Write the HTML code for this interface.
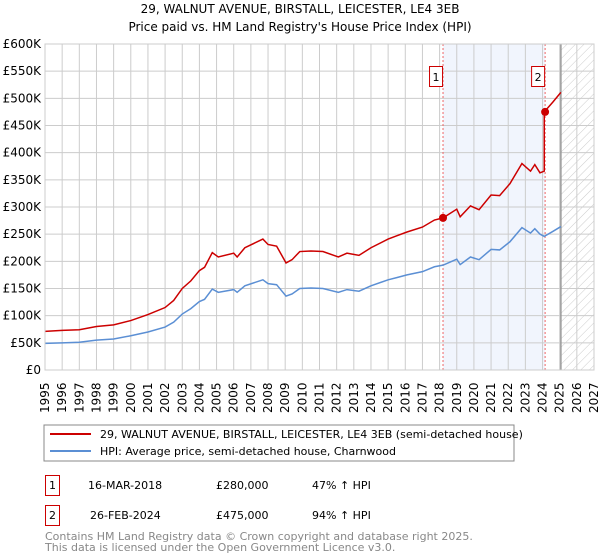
<!DOCTYPE html>
<html><head><meta charset="utf-8"><style>
body{margin:0;background:#fff;font-family:"Liberation Sans","DejaVu Sans",sans-serif;}
svg{display:block}
</style></head><body>
<svg width="600" height="560" xmlns="http://www.w3.org/2000/svg" font-family="DejaVu Sans, Liberation Sans, sans-serif">
<defs><pattern id="hatch" width="6" height="6" patternUnits="userSpaceOnUse" patternTransform="rotate(45)"><line x1="0" y1="0" x2="0" y2="6" stroke="#ccc" stroke-width="1"/></pattern></defs>
<text x="300" y="13" text-anchor="middle" font-size="12">29, WALNUT AVENUE, BIRSTALL, LEICESTER, LE4 3EB</text>
<text x="300" y="31" text-anchor="middle" font-size="12">Price paid vs. HM Land Registry's House Price Index (HPI)</text>
<g id="plot"></g>
<g>
<rect x="44" y="425" width="470" height="36" fill="#fff" stroke="#888"/>
<line x1="50" y1="434" x2="91" y2="434" stroke="#cc0000" stroke-width="2"/>
<text x="100" y="438" font-size="11">29, WALNUT AVENUE, BIRSTALL, LEICESTER, LE4 3EB (semi-detached house)</text>
<line x1="50" y1="451" x2="91" y2="451" stroke="#5b8fd4" stroke-width="2"/>
<text x="100" y="455" font-size="11">HPI: Average price, semi-detached house, Charnwood</text>
</g>
<g font-size="11">
<rect x="45.5" y="475.5" width="14" height="20" fill="#fff" stroke="#cc0000"/>
<text x="52.5" y="489" text-anchor="middle">1</text>
<text x="88" y="489">16-MAR-2018</text>
<text x="216" y="489">£280,000</text>
<text x="312" y="489">47% ↑ HPI</text>
<rect x="45.5" y="505.5" width="14" height="20" fill="#fff" stroke="#cc0000"/>
<text x="52.5" y="519" text-anchor="middle">2</text>
<text x="90" y="519">26-FEB-2024</text>
<text x="216" y="519">£475,000</text>
<text x="312" y="519">94% ↑ HPI</text>
</g>
<text x="45" y="540" font-size="11" fill="#888">Contains HM Land Registry data © Crown copyright and database right 2025.</text>
<text x="45" y="551" font-size="11" fill="#888">This data is licensed under the Open Government Licence v3.0.</text>
</svg>
<script>
const hpiYears=[1995,1996,1997,1998,1999,2000,2001,2002,2002.5,2003,2003.5,2004,2004.3,2004.75,2005.1,2006.0,2006.2,2006.65,2007.7,2008.0,2008.5,2009.05,2009.4,2009.85,2010.5,2011.2,2012.1,2012.6,2013.3,2014.0,2015.0,2015.5,2016.1,2017.0,2017.7,2018.2,2019.0,2019.2,2019.8,2020.3,2021.0,2021.5,2022.1,2022.8,2023.3,2023.55,2023.85,2024.1,2024.6,2025.07];
const hpiValues=[49,50,51,55,57,63,70,79,88,103,113,126,130,149,143,148,143,155,166,159,157,136,140,150,151,150,143,148,145,155,166,170,175,181,190,193,204,194,208,203,222,221,236,262,252,260,250,246,255,264];
const priceYears=[1995,1996,1997,1998,1999,2000,2001,2002,2002.5,2003,2003.5,2004,2004.3,2004.75,2005.1,2006.0,2006.2,2006.65,2007.7,2008.0,2008.5,2009.05,2009.4,2009.85,2010.5,2011.2,2012.1,2012.6,2013.3,2014.0,2015.0,2015.5,2016.1,2017.0,2017.7,2018.2,2019.0,2019.2,2019.8,2020.3,2021.0,2021.5,2022.1,2022.8,2023.3,2023.55,2023.85,2024.1,2024.1,2024.6,2025.07];
const priceValues=[71,73,74,80,83,91,102,115,128,150,164,183,189,216,208,215,208,225,241,231,228,197,203,218,219,218,208,215,211,225,241,247,254,263,276,280,296,282,302,295,322,321,343,380,366,378,363,366,475,493,511];
const saleYears=[2018.2,2024.15];
const saleValues=[280,475];
const saleLabels=["1","2"];
const yTicks=[0,50,100,150,200,250,300,350,400,450,500,550,600];
const yTickLabels=["£0","£50K","£100K","£150K","£200K","£250K","£300K","£350K","£400K","£450K","£500K","£550K","£600K"];
const xTicks=[1995,1996,1997,1998,1999,2000,2001,2002,2003,2004,2005,2006,2007,2008,2009,2010,2011,2012,2013,2014,2015,2016,2017,2018,2019,2020,2021,2022,2023,2024,2025,2026,2027];
const dataEnd=2025.07;

const L=45,R=594,T=44,B=370,X0=1995,X1=2027,Y1=600;
const xs=v=>L+(v-X0)/(X1-X0)*(R-L);
const ys=v=>B-v/Y1*(B-T);
const NS="http://www.w3.org/2000/svg";
const g=document.getElementById('plot');
function mk(t,a,p){const e=document.createElementNS(NS,t);for(const k in a)e.setAttribute(k,a[k]);(p||g).appendChild(e);return e;}

const shade=mk('rect',{x:xs(saleYears[0]),y:T,width:xs(saleYears[1])-xs(saleYears[0]),height:B-T,fill:'#eef3fc',opacity:0.8});


const hatch=mk('rect',{x:xs(dataEnd),y:T,width:R-xs(dataEnd),height:B-T,fill:'url(#hatch)'});



yTicks.forEach((v,i)=>{
 const ln=mk('line',{x1:L,x2:R,y1:ys(v),y2:ys(v),stroke:'#ccc'});
 
 
 const t=mk('text',{x:L-4,y:ys(v)+4,'text-anchor':'end','font-size':12});
 
 
 t.textContent=yTickLabels[i];
});
xTicks.forEach(v=>{
 const ln=mk('line',{x1:xs(v),x2:xs(v),y1:T,y2:B,stroke:'#ccc'});
 
 
 const t=mk('text',{x:0,y:0,'font-size':12,transform:`translate(${xs(v)+4},${413}) rotate(-90)`});
 
 
 t.textContent=v;
});
const endLine=mk('line',{x1:xs(dataEnd),x2:xs(dataEnd),y1:T,y2:B,stroke:'#999','stroke-width':1.5});



saleYears.forEach((yr,i)=>{
 const d=mk('line',{x1:xs(yr),x2:xs(yr),y1:T,y2:B,stroke:'#e66','stroke-dasharray':'2,2'});
 
 
});

const hp=mk('polyline',{points:hpiYears.map((y,i)=>xs(y)+','+ys(hpiValues[i])).join(' '),fill:'none',stroke:'#5b8fd4','stroke-width':1.5});


const pp=mk('polyline',{points:priceYears.map((y,i)=>xs(y)+','+ys(priceValues[i])).join(' '),fill:'none',stroke:'#cc0000','stroke-width':1.5});



saleYears.forEach((yr,i)=>{
 const c=mk('circle',{cx:xs(yr),cy:ys(saleValues[i]),r:4,fill:'#cc0000'});
 
 
 const b=mk('rect',{x:xs(yr)-13.5,y:66.5,width:13,height:20,fill:'#fff',stroke:'#cc0000'});
 
 
 const t=mk('text',{x:xs(yr)-7,y:81,'text-anchor':'middle','font-size':11});
 
 
 t.textContent=saleLabels[i];
});
const frame=mk('rect',{x:L,y:T,width:R-L,height:B-T,fill:'none',stroke:'#ccc'});


</script>
</body></html>
